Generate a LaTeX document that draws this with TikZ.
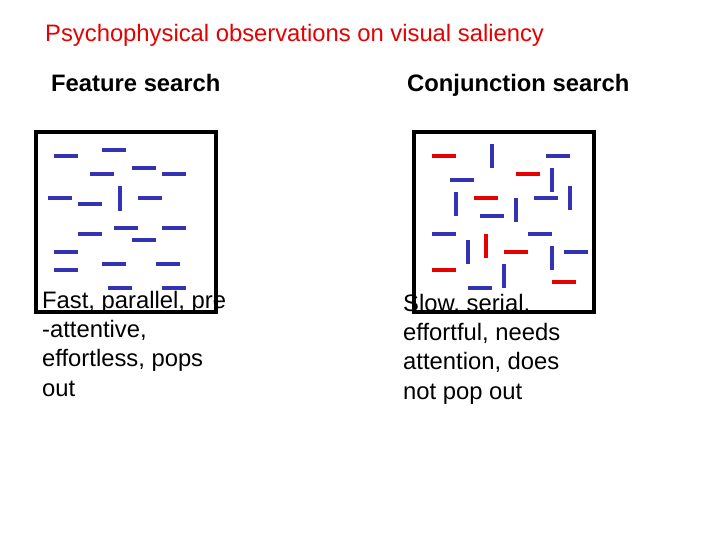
\documentclass[tikz,border=0pt]{standalone}
\usepackage{fontspec}
\setmainfont{Liberation Sans}
\definecolor{bb}{RGB}{51,51,180}
\definecolor{rr}{RGB}{230,0,0}
\begin{document}
\begin{tikzpicture}[x=1pt,y=-1pt,
  frame/.style={draw=black,line width=3.5pt},
  hb/.style={line width=4pt,bb},
  lbl/.style={anchor=base west,inner sep=0pt,font=\fontsize{23.8}{29}\selectfont},
  captxt/.style={anchor=base west,inner sep=0pt,align=left,font=\fontsize{23.8}{29.3}\selectfont}]
\useasboundingbox (0,0) rectangle (720,540);
\node[lbl,text=rr] (title) at (45,42) {Psychophysical observations on visual saliency};
\node[lbl,font=\bfseries\fontsize{23.8}{28}\selectfont] (fs) at (51,92) {Feature search};
\node[lbl,font=\bfseries\fontsize{23.8}{28}\selectfont] (cs) at (407,92) {Conjunction search};
\node[frame,minimum width=180pt,minimum height=180pt,inner sep=0pt] (L) at (126,222) {};
\node[frame,minimum width=180pt,minimum height=180pt,inner sep=0pt] (R) at (504,222) {};
\foreach \x/\y in {66/156,114/150,102/174,144/168,174/174,60/198,90/204,150/198,90/234,126/228,144/240,174/228,66/252,114/264,168/264,66/270,120/288,174/288}
  \draw[hb] (\x-12,\y) -- (\x+12,\y);
\draw[hb] (120,186) -- (120,211);
\foreach \x/\y in {558/156,462/180,546/198,492/216,444/234,540/234,576/252,480/288}
  \draw[hb] (\x-12,\y) -- (\x+12,\y);
\foreach \x/\y in {492/156,552/180,570/198,456/204,516/210,468/252,552/258,504/276}
  \draw[hb] (\x,\y-12) -- (\x,\y+12);
\foreach \x/\y in {444/156,528/174,486/198,516/252,444/270,564/282}
  \draw[hb,rr] (\x-12,\y) -- (\x+12,\y);
\draw[hb,rr] (486,234) -- (486,258);
\node[captxt] (c1) at (42,396) {Fast, parallel, pre\\-attentive,\\effortless, pops\\out};
\node[captxt] (c2) at (403,399) {Slow, serial,\\effortful, needs\\attention, does\\not pop out};
\end{tikzpicture}
\end{document}
